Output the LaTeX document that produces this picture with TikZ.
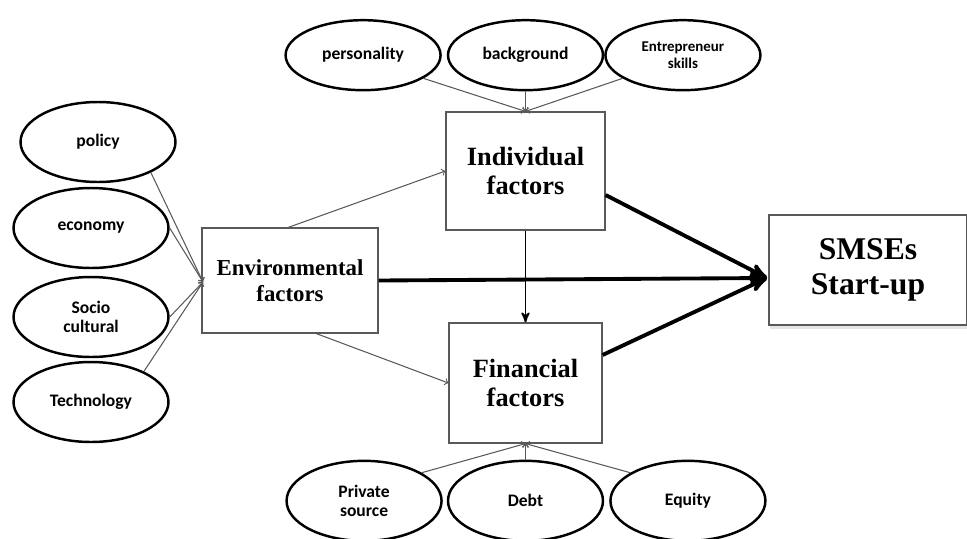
\documentclass[tikz,border=0pt]{standalone}
\usepackage{fontspec}
\setmainfont{Liberation Serif}
\newfontfamily\ovalfont{Carlito}
\usepackage{tikz}
\usetikzlibrary{arrows,positioning,shapes.geometric,shadows}

\begin{document}
\begin{tikzpicture}[x=0.02cm,y=-0.02cm,>=stealth',
	factor/.style={draw=black!65,line width=0.7pt,fill=white,align=center,font=\bfseries,inner sep=0pt},
	oval/.style={ellipse,draw,line width=1.4pt,minimum width=3.1cm,minimum height=1.6cm,inner sep=0pt,align=center,font=\ovalfont\bfseries\fontsize{10}{11}\selectfont},
	thin/.style={-to,color=black!65,line width=0.6pt},
	thick/.style={->,line width=2.2pt}]
	\useasboundingbox (0,0) rectangle (967,538);

	\node[factor,minimum width=3.52cm,minimum height=2.1cm,font=\bfseries\fontsize{13}{15}\selectfont] (fEnv) at (290,280.5) {Environmental\\factors};
	\node[factor,minimum width=3.18cm,minimum height=2.36cm,font=\bfseries\fontsize{15}{17}\selectfont] (fInd) at (525.5,171) {Individual\\factors};
	\node[factor,minimum width=3.06cm,minimum height=2.4cm,font=\bfseries\fontsize{15}{17}\selectfont] (fFin) at (525.5,383) {Financial\\factors};
	\node[factor,minimum width=3.96cm,minimum height=2.2cm,font=\bfseries\fontsize{18}{20}\selectfont,
		drop shadow={shadow xshift=0.5pt,shadow yshift=-2pt,fill=black!20}] (smse) at (868,270) {SMSEs\\Start-up};
	\coordinate (sIn) at (767,278);
	\coordinate (eIn) at (203,282);

	\node[oval] (oPol) at (98,142) {policy};
	\node[oval] (oEco) at (91,228) {economy};
	\node[oval] (oSoc) at (91,317) {Socio\\cultural};
	\node[oval] (oTec) at (91,402) {Technology};

	\node[oval,minimum height=1.4cm] (oBac) [above=0.4cm of fInd] {background};
	\node[oval,minimum height=1.4cm] (oPer) [left=0.1cm of oBac] {personality};
	\node[oval,minimum height=1.4cm,font=\ovalfont\bfseries\fontsize{8.5}{10}\selectfont] (oEnt) [right=0cm of oBac] {Entrepreneur\\skills};

	\node[oval] (oDeb) [below=0.32cm of fFin] {Debt};
	\node[oval] (oPri) [left=0.08cm of oDeb] {Private\\source};
	\node[oval] (oEqu) [right=0.1cm of oDeb] {Equity};

	\path[thin]
	(oPol.-30) edge (eIn)
	(oEco.east) edge (eIn)
	(oSoc.east) edge (eIn)
	(oTec.30) edge (eIn)
	(oPer.-21) edge (fInd.north)
	(oBac.south) edge (fInd.north)
	(oEnt.-159) edge (fInd.north)
	(oPri.26) edge (fFin.south)
	(oDeb.north) edge (fFin.south)
	(oEqu.154) edge (fFin.south)
	([xshift=-1pt]fEnv.north) edge (fInd.west)
	([xshift=15pt]fEnv.south) edge (fFin.west)
	;
	\draw[->,line width=1pt] (fInd.south) -- (fFin.north);

	\path[thick]
	(fEnv.east) edge (sIn)
	(fInd.east |- 0,195) edge (sIn)
	(fFin.east |- 0,355) edge (sIn)
	;
\end{tikzpicture}
\end{document}
